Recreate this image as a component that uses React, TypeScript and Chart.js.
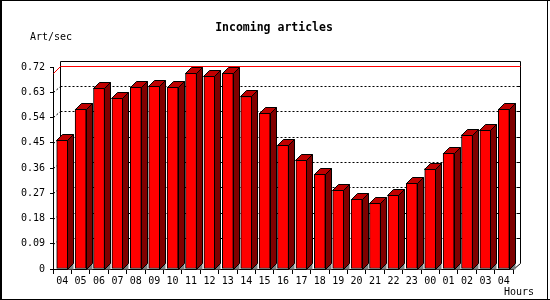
import React, { useEffect, useRef } from "react";
import { Chart, registerables } from "chart.js";

Chart.register(...registerables);

const hours = ["04","05","06","07","08","09","10","11","12","13","14","15","16","17","18","19","20","21","22","23","00","01","02","03","04"];
const rates = [0.459,0.570,0.644,0.608,0.648,0.651,0.648,0.697,0.687,0.697,0.615,0.555,0.442,0.387,0.337,0.280,0.248,0.234,0.263,0.305,0.358,0.412,0.478,0.494,0.570];
const yTicks = [0,0.09,0.18,0.27,0.36,0.45,0.54,0.63,0.72];
const maxRate = 0.70;
const titleText = "Incoming articles";
const yUnit = "Art/sec";
const xUnit = "Hours";

const FONT = "'DejaVu Sans Mono', monospace";
const WDX = 7, WDY = 6; // wall depth
const BDX = 6, BDY = 6; // bar depth
const cr = (v: number) => Math.round(v) + 0.5;

const backWall = {
  id: "backWall",
  beforeDatasetsDraw(chart: any) {
    const { ctx, chartArea: a, scales } = chart;
    const y = scales.y;
    const L = a.left, R = a.right, B = a.bottom;
    const top = y.getPixelForValue(yTicks[yTicks.length - 1]);
    const bL = cr(L + WDX), bR = cr(R + WDX), bT = cr(top - WDY), bB = cr(B - WDY);
    ctx.save();
    ctx.lineWidth = 1;
    ctx.strokeStyle = "#000";
    ctx.setLineDash([2, 2]);
    yTicks.forEach((v, i) => {
      if (i === 0 || i === yTicks.length - 1) return;
      const fy = y.getPixelForValue(v);
      const by = cr(fy - WDY);
      ctx.beginPath();
      ctx.moveTo(bL, by);
      ctx.lineTo(bR, by);
      ctx.stroke();
      ctx.beginPath();
      ctx.moveTo(cr(L), cr(fy));
      ctx.lineTo(bL, by);
      ctx.stroke();
    });
    ctx.setLineDash([]);
    yTicks.forEach((v, i) => {
      if (i === 0 || i === yTicks.length - 1) return;
      const by = cr(y.getPixelForValue(v) - WDY);
      ctx.beginPath();
      ctx.moveTo(bR - 3, by);
      ctx.lineTo(bR, by);
      ctx.stroke();
    });
    ctx.beginPath();
    ctx.moveTo(bL, bB);
    ctx.lineTo(bL, bT);
    ctx.lineTo(bR, bT);
    ctx.lineTo(bR, bB);
    ctx.lineTo(cr(R), cr(B));
    ctx.stroke();
    const my = y.getPixelForValue(maxRate);
    ctx.strokeStyle = "#ff0000";
    ctx.beginPath();
    ctx.moveTo(cr(L), cr(my));
    ctx.lineTo(bL, cr(my - 7));
    ctx.lineTo(bR, cr(my - 7));
    ctx.stroke();
    ctx.restore();
  },
};

const faces3d = {
  id: "faces3d",
  afterDatasetsDraw(chart: any) {
    const ctx = chart.ctx;
    const meta = chart.getDatasetMeta(0);
    ctx.save();
    ctx.lineWidth = 1;
    ctx.strokeStyle = "#000";
    meta.data.forEach((bar: any) => {
      const p = bar.getProps(["x", "y", "base", "width"], true);
      const l = cr(p.x - p.width / 2 - 0.5);
      const r = cr(p.x + p.width / 2 - 0.5);
      const t = cr(p.y);
      const b = cr(p.base);
      ctx.fillStyle = "#808080";
      ctx.beginPath();
      ctx.moveTo(r, b);
      ctx.lineTo(r + BDX, b - BDY);
      ctx.lineTo(r + BDX, b);
      ctx.closePath();
      ctx.fill();
      ctx.fillStyle = "#800000";
      ctx.beginPath();
      ctx.moveTo(r, t);
      ctx.lineTo(r + BDX, t - BDY);
      ctx.lineTo(r + BDX, b - BDY);
      ctx.lineTo(r, b);
      ctx.closePath();
      ctx.fill();
      ctx.stroke();
      ctx.fillStyle = "#c00000";
      ctx.beginPath();
      ctx.moveTo(l, t);
      ctx.lineTo(l + BDX, t - BDY);
      ctx.lineTo(r + BDX, t - BDY);
      ctx.lineTo(r, t);
      ctx.closePath();
      ctx.fill();
      ctx.stroke();
    });
    ctx.restore();
  },
};

const texts = {
  id: "texts",
  afterDraw(chart: any) {
    const ctx = chart.ctx;
    ctx.save();
    ctx.fillStyle = "#000";
    ctx.textBaseline = "alphabetic";
    ctx.font = `bold 11.5px ${FONT}`;
    ctx.textAlign = "center";
    ctx.fillText(titleText, 274, 31);
    ctx.font = `10px ${FONT}`;
    ctx.textAlign = "left";
    ctx.fillText(yUnit, 30, 40);
    ctx.fillText(xUnit, 504, 295);
    ctx.strokeStyle = "#000";
    ctx.lineWidth = 1;
    ctx.beginPath();
    ctx.moveTo(0.5, 0);
    ctx.lineTo(0.5, 300);
    ctx.moveTo(1.5, 0);
    ctx.lineTo(1.5, 300);
    ctx.moveTo(0, 0.5);
    ctx.lineTo(550, 0.5);
    ctx.moveTo(0, 299.5);
    ctx.lineTo(550, 299.5);
    ctx.moveTo(547.5, 0);
    ctx.lineTo(547.5, 300);
    ctx.stroke();
    ctx.restore();
  },
};

export default function App() {
  const ref = useRef<HTMLCanvasElement>(null);
  useEffect(() => {
    if (!ref.current) return;
    const chart = new Chart(ref.current, {
      type: "bar",
      data: {
        labels: hours,
        datasets: [
          {
            data: rates,
            backgroundColor: "#ff0000",
            borderColor: "#000000",
            borderWidth: 1,
            borderSkipped: false,
            barThickness: 11,
          },
        ],
      },
      options: {
        animation: false,
        responsive: false,
        devicePixelRatio: 1,
        layout: { padding: { top: 67, right: 37, left: 0, bottom: 0 } },
        plugins: { legend: { display: false }, title: { display: false }, tooltip: { enabled: false } },
        scales: {
          x: {
            grid: { drawOnChartArea: false, drawTicks: true, tickLength: 5, color: "#000", offset: true },
            border: { color: "#000", width: 1 },
            ticks: { color: "#000", font: { family: FONT, size: 10 }, autoSkip: false, maxRotation: 0, padding: 1 },
            afterFit: (s: any) => { s.height = 31; },
          },
          y: {
            min: 0,
            max: 0.72,
            afterBuildTicks: (s: any) => { s.ticks = yTicks.map((v) => ({ value: v })); },
            grid: { drawOnChartArea: false, drawTicks: true, tickLength: 3, color: "#000" },
            border: { color: "#000", width: 1 },
            ticks: {
              color: "#000",
              font: { family: FONT, size: 10 },
              padding: 5,
              callback: (v: any) => (Number(v) === 0 ? "0" : Number(v).toFixed(2)),
            },
            afterFit: (s: any) => { s.width = 53; },
          },
        },
      },
      plugins: [backWall, faces3d, texts],
    });
    return () => chart.destroy();
  }, []);
  return (
    <div style={{ position: "fixed", left: 0, top: 0, width: 550, height: 300, background: "#fff" }}>
      <canvas ref={ref} width={550} height={300} style={{ display: "block" }} />
    </div>
  );
}
